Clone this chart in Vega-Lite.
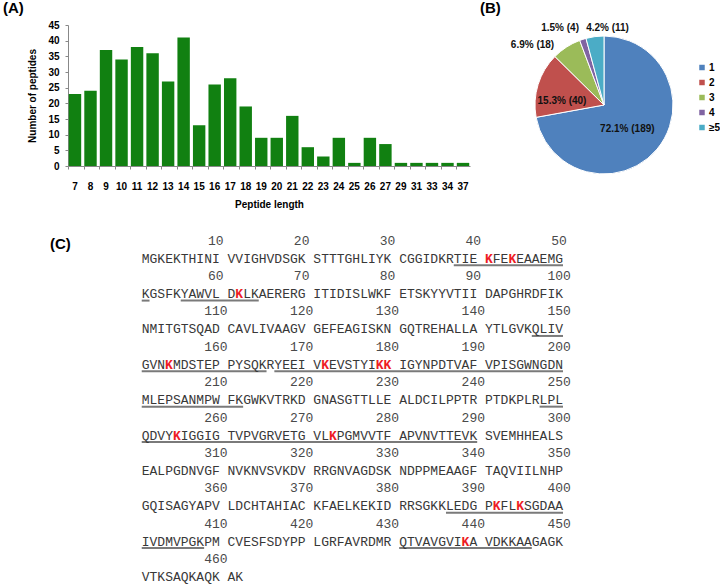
{
  "$schema": "https://vega.github.io/schema/vega-lite/v6.json",
  "background": "white",
  "padding": {"left": 3, "top": 0, "right": 0, "bottom": 0},
  "config": {"view": {"stroke": null}, "font": "Liberation Sans"},
  "spacing": 25,
  "vconcat": [
    {
      "spacing": 10,
      "hconcat": [
        {
          "width": 402,
          "height": 141,
          "title": {"text": "(A)", "anchor": "start", "frame": "group", "dx": -65, "fontSize": 15, "fontWeight": "bold", "color": "#000", "offset": 4},
          "data": {"values": [
            {"len": 7, "n": 23}, {"len": 8, "n": 24}, {"len": 9, "n": 37}, {"len": 10, "n": 34},
            {"len": 11, "n": 38}, {"len": 12, "n": 36}, {"len": 13, "n": 27}, {"len": 14, "n": 41},
            {"len": 15, "n": 13}, {"len": 16, "n": 26}, {"len": 17, "n": 28}, {"len": 18, "n": 19},
            {"len": 19, "n": 9}, {"len": 20, "n": 9}, {"len": 21, "n": 16}, {"len": 22, "n": 6},
            {"len": 23, "n": 3}, {"len": 24, "n": 9}, {"len": 25, "n": 1}, {"len": 26, "n": 9},
            {"len": 27, "n": 7}, {"len": 29, "n": 1}, {"len": 31, "n": 1}, {"len": 33, "n": 1},
            {"len": 34, "n": 1}, {"len": 37, "n": 1}
          ]},
          "mark": {"type": "bar", "color": "#118011"},
          "encoding": {
            "x": {
              "field": "len", "type": "ordinal",
              "scale": {"paddingInner": 0.2, "paddingOuter": 0.05},
              "axis": {"title": "Peptide length", "labelAngle": 0, "labelFontSize": 10, "labelFontWeight": "bold", "labelColor": "#000", "labelPadding": 12, "tickSize": 3, "bandPosition": 0, "domainColor": "#888", "tickColor": "#888", "titleFontSize": 10, "titleFontWeight": "bold", "titleColor": "#000", "titlePadding": 8}
            },
            "y": {
              "field": "n", "type": "quantitative",
              "scale": {"domain": [0, 45], "nice": false},
              "axis": {"title": "Number of peptides", "values": [0, 5, 10, 15, 20, 25, 30, 35, 40, 45], "grid": false, "tickSize": 3, "labelPadding": 6, "labelFontSize": 10, "labelFontWeight": "bold", "labelColor": "#000", "domainColor": "#888", "tickColor": "#888", "titleFontSize": 10, "titleFontWeight": "bold", "titleColor": "#000", "titlePadding": 10}
            }
          }
        },
        {
          "width": 138,
          "height": 160,
          "title": {"text": "(B)", "anchor": "start", "frame": "group", "dx": -55, "fontSize": 15, "fontWeight": "bold", "color": "#000", "offset": 4},
          "data": {"values": [
            {"k": "1", "n": 189, "label": "72.1% (189)"},
            {"k": "2", "n": 40, "label": "15.3% (40)"},
            {"k": "3", "n": 18, "label": "6.9% (18)"},
            {"k": "4", "n": 4, "label": "1.5% (4)"},
            {"k": "≥5", "n": 11, "label": "4.2% (11)"}
          ]},
          "encoding": {
            "theta": {"field": "n", "type": "quantitative", "stack": true},
            "order": {"field": "k", "type": "ordinal"},
            "detail": {"field": "k", "type": "nominal"}
          },
          "layer": [
            {
              "mark": {"type": "arc", "outerRadius": 69, "stroke": "white", "strokeWidth": 1},
              "encoding": {
                "color": {
                  "field": "k", "type": "nominal",
                  "scale": {"domain": ["1", "2", "3", "4", "≥5"], "range": ["#4F81BD", "#C0504D", "#9BBB59", "#8064A2", "#4BACC6"]},
                  "legend": {"orient": "none", "legendX": 629, "legendY": 37.5, "title": null, "symbolType": "square", "symbolSize": 30, "symbolStrokeWidth": 0, "labelFontSize": 10, "labelFontWeight": "bold", "labelColor": "#000", "rowPadding": 5, "labelOffset": 2}
                }
              }
            },
            {
              "mark": {"type": "text", "radius": 33, "dx": -2, "dy": 3, "align": "center", "baseline": "middle", "fontSize": 10, "fontWeight": "bold", "color": "#111"},
              "encoding": {"text": {"condition": {"test": "datum.k === '1'", "field": "label"}, "value": ""}}
            },
            {
              "mark": {"type": "text", "radius": 44, "dy": 9, "align": "center", "baseline": "middle", "fontSize": 10, "fontWeight": "bold", "color": "#111"},
              "encoding": {"text": {"condition": {"test": "datum.k === '2'", "field": "label"}, "value": ""}}
            },
            {
              "mark": {"type": "text", "radius": 75, "dx": -9, "dy": 3, "align": "right", "baseline": "middle", "fontSize": 10, "fontWeight": "bold", "color": "#111"},
              "encoding": {"text": {"condition": {"test": "datum.k === '3'", "field": "label"}, "value": ""}}
            },
            {
              "mark": {"type": "text", "radius": 75, "dx": -2, "dy": -6, "align": "right", "baseline": "middle", "fontSize": 10, "fontWeight": "bold", "color": "#111"},
              "encoding": {"text": {"condition": {"test": "datum.k === '4'", "field": "label"}, "value": ""}}
            },
            {
              "mark": {"type": "text", "radius": 75, "dx": -8, "dy": -3, "align": "left", "baseline": "middle", "fontSize": 10, "fontWeight": "bold", "color": "#111"},
              "encoding": {"text": {"condition": {"test": "datum.k === '≥5'", "field": "label"}, "value": ""}}
            }
          ]
        }
      ]
    },
    {
      "width": 495,
      "height": 350,
      "title": {"text": "(C)", "anchor": "start", "frame": "group", "dx": -18, "dy": 18, "offset": 0, "fontSize": 15, "fontWeight": "bold", "color": "#000"},
      "layer": [
        {
          "data": {"values": [
            {"s": 38, "e": 50}, {"s": 51, "e": 51}, {"s": 56, "e": 64}, {"s": 147, "e": 150},
            {"s": 151, "e": 165}, {"s": 167, "e": 200}, {"s": 201, "e": 212}, {"s": 248, "e": 250},
            {"s": 251, "e": 290}, {"s": 387, "e": 400}, {"s": 401, "e": 408}, {"s": 431, "e": 446}
          ]},
          "transform": [
            {"calculate": "(datum.s-1)%50", "as": "is"},
            {"calculate": "(datum.e-1)%50", "as": "ie"},
            {"calculate": "datum.is + floor(datum.is/10)", "as": "c1"},
            {"calculate": "datum.ie + floor(datum.ie/10) + 1", "as": "c2"},
            {"calculate": "floor((datum.s-1)/50)", "as": "line"}
          ],
          "mark": {"type": "rule", "color": "#7a7a7a", "strokeWidth": 2, "yOffset": 6.5},
          "encoding": {
            "x": {"field": "c1", "type": "quantitative", "scale": {"domain": [-9.45, 54], "nice": false, "zero": false}, "axis": null},
            "x2": {"field": "c2"},
            "y": {"field": "line", "type": "quantitative", "scale": {"domain": [-0.7, 9.2], "nice": false, "zero": false, "reverse": true}, "axis": null}
          }
        },
        {
          "data": {"values": [
            {"start": 1, "seq": "MGKEKTHINI VVIGHVDSGK STTTGHLIYK CGGIDKRTIE"},
            {"start": 42, "seq": "FE"},
            {"start": 45, "seq": "EAAEMG"},
            {"start": 51, "seq": "KGSFKYAWVL D"},
            {"start": 63, "seq": "LKAERERG ITIDISLWKF ETSKYYVTII DAPGHRDFIK"},
            {"start": 101, "seq": "NMITGTSQAD CAVLIVAAGV GEFEAGISKN GQTREHALLA YTLGVKQLIV"},
            {"start": 151, "seq": "GVN"},
            {"start": 155, "seq": "MDSTEP PYSQKRYEEI V"},
            {"start": 173, "seq": "EVSTYI"},
            {"start": 181, "seq": "IGYNPDTVAF VPISGWNGDN"},
            {"start": 201, "seq": "MLEPSANMPW FKGWKVTRKD GNASGTTLLE ALDCILPPTR PTDKPLRLPL"},
            {"start": 251, "seq": "QDVY"},
            {"start": 256, "seq": "IGGIG TVPVGRVETG VL"},
            {"start": 274, "seq": "PGMVVTF APVNVTTEVK SVEMHHEALS"},
            {"start": 301, "seq": "EALPGDNVGF NVKNVSVKDV RRGNVAGDSK NDPPMEAAGF TAQVIILNHP"},
            {"start": 351, "seq": "GQISAGYAPV LDCHTAHIAC KFAELKEKID RRSGKKLEDG P"},
            {"start": 393, "seq": "FL"},
            {"start": 396, "seq": "SGDAA"},
            {"start": 401, "seq": "IVDMVPGKPM CVESFSDYPP LGRFAVRDMR QTVAVGVI"},
            {"start": 440, "seq": "A VDKKAAGAGK"},
            {"start": 451, "seq": "VTKSAQKAQK AK"}
          ]},
          "transform": [
            {"calculate": "(datum.start-1)%50", "as": "i"},
            {"calculate": "datum.i + floor(datum.i/10)", "as": "c"},
            {"calculate": "floor((datum.start-1)/50)", "as": "line"}
          ],
          "mark": {"type": "text", "align": "left", "baseline": "middle", "font": "Liberation Mono", "fontSize": 13, "color": "#383838"},
          "encoding": {
            "x": {"field": "c", "type": "quantitative", "scale": {"domain": [-9.45, 54], "nice": false, "zero": false}, "axis": null},
            "y": {"field": "line", "type": "quantitative", "scale": {"domain": [-0.7, 9.2], "nice": false, "zero": false, "reverse": true}, "axis": null},
            "text": {"field": "seq"}
          }
        },
        {
          "data": {"values": [
            {"n": 10}, {"n": 20}, {"n": 30}, {"n": 40}, {"n": 50},
            {"n": 60}, {"n": 70}, {"n": 80}, {"n": 90}, {"n": 100},
            {"n": 110}, {"n": 120}, {"n": 130}, {"n": 140}, {"n": 150},
            {"n": 160}, {"n": 170}, {"n": 180}, {"n": 190}, {"n": 200},
            {"n": 210}, {"n": 220}, {"n": 230}, {"n": 240}, {"n": 250},
            {"n": 260}, {"n": 270}, {"n": 280}, {"n": 290}, {"n": 300},
            {"n": 310}, {"n": 320}, {"n": 330}, {"n": 340}, {"n": 350},
            {"n": 360}, {"n": 370}, {"n": 380}, {"n": 390}, {"n": 400},
            {"n": 410}, {"n": 420}, {"n": 430}, {"n": 440}, {"n": 450},
            {"n": 460}
          ]},
          "transform": [
            {"calculate": "(datum.n-1)%50", "as": "i"},
            {"calculate": "datum.i + floor(datum.i/10) + 0.5", "as": "c"},
            {"calculate": "floor((datum.n-1)/50)", "as": "line"}
          ],
          "mark": {"type": "text", "align": "center", "baseline": "middle", "font": "Liberation Mono", "fontSize": 13, "color": "#4a4a4a", "yOffset": -18},
          "encoding": {
            "x": {"field": "c", "type": "quantitative", "scale": {"domain": [-9.45, 54], "nice": false, "zero": false}, "axis": null},
            "y": {"field": "line", "type": "quantitative", "scale": {"domain": [-0.7, 9.2], "nice": false, "zero": false, "reverse": true}, "axis": null},
            "text": {"field": "n"}
          }
        },
        {
          "data": {"values": [
            {"r": 41}, {"r": 44}, {"r": 62}, {"r": 154}, {"r": 172}, {"r": 179},
            {"r": 180}, {"r": 255}, {"r": 273}, {"r": 392}, {"r": 395}, {"r": 439}
          ]},
          "transform": [
            {"calculate": "(datum.r-1)%50", "as": "i"},
            {"calculate": "datum.i + floor(datum.i/10) + 0.5", "as": "c"},
            {"calculate": "floor((datum.r-1)/50)", "as": "line"}
          ],
          "mark": {"type": "text", "align": "center", "baseline": "middle", "font": "Liberation Mono", "fontSize": 13, "fontWeight": "bold", "color": "#ee1c24"},
          "encoding": {
            "x": {"field": "c", "type": "quantitative", "scale": {"domain": [-9.45, 54], "nice": false, "zero": false}, "axis": null},
            "y": {"field": "line", "type": "quantitative", "scale": {"domain": [-0.7, 9.2], "nice": false, "zero": false, "reverse": true}, "axis": null},
            "text": {"value": "K"}
          }
        }
      ]
    }
  ]
}
